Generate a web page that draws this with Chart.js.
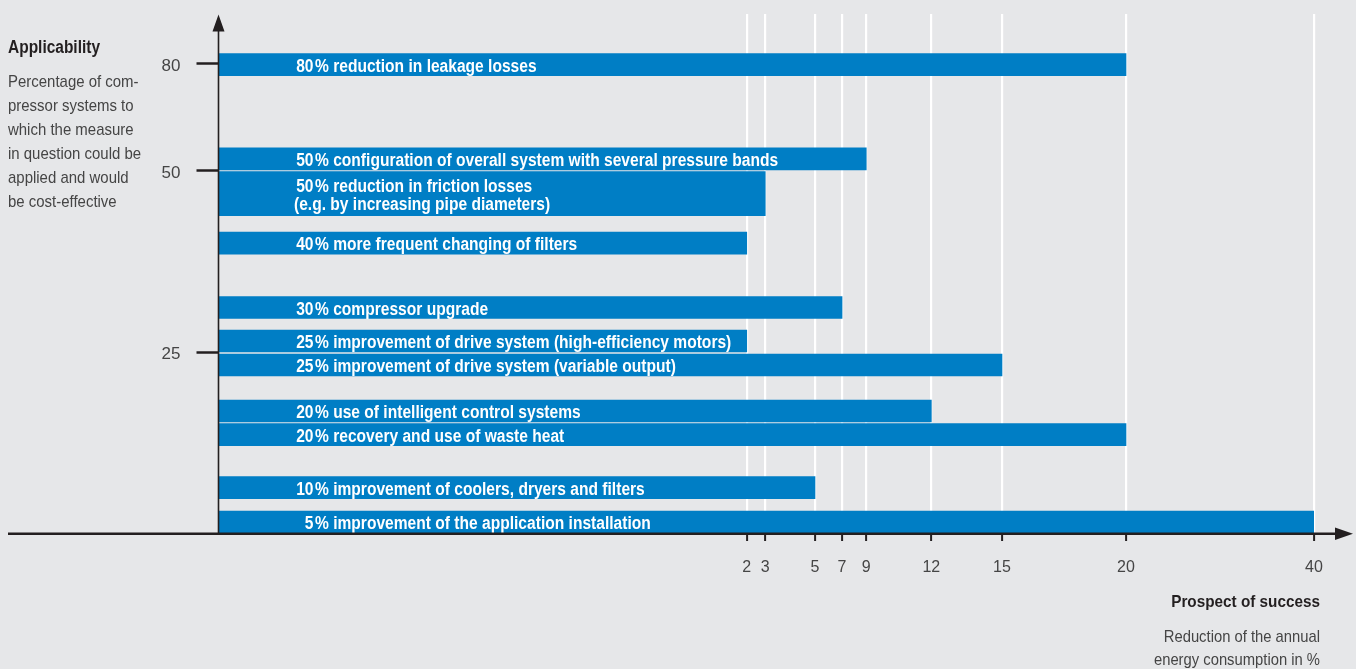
<!DOCTYPE html>
<html>
<head>
<meta charset="utf-8">
<script src="https://cdn.jsdelivr.net/npm/chart.js@4.4.1/dist/chart.umd.min.js"></script>
<style>
  html, body { margin: 0; padding: 0; background: #e6e7e9; }
  canvas { display: block; }
</style>
</head>
<body>
<canvas id="chart" width="1356" height="669"></canvas>
<script>
// ---------------- data ----------------
const measures = [
  "reduction in leakage losses",
  "configuration of overall system with several pressure bands",
  "reduction in friction losses\n(e.g. by increasing pipe diameters)",
  "more frequent changing of filters",
  "compressor upgrade",
  "improvement of drive system (high-efficiency motors)",
  "improvement of drive system (variable output)",
  "use of intelligent control systems",
  "recovery and use of waste heat",
  "improvement of coolers, dryers and filters",
  "improvement of the application installation"
];
const applicability = [80, 50, 50, 40, 30, 25, 25, 20, 20, 10, 5];   // % of compressor systems
const savings       = [20, 9, 3, 2, 7, 2, 15, 12, 20, 5, 40];        // % reduction of energy use
const xTicks = [2, 3, 5, 7, 9, 12, 15, 20, 40];
const yTicks = [25, 50, 80];

// ---------------- layout (axis warping & bar placement) ----------------
// vertical placement of each bar on the applicability axis (bars with equal values are offset)
const rowPos = [79.7, 53.2, 46.8, 40, 31.15, 26.55, 23.24, 16.88, 13.6, 6.27, 1.52];
const WARPS = {
  x: { values: [0, 2, 3, 5, 7, 9, 12, 15, 20, 40],
       fracs:  [0, 0.4822, 0.4991, 0.5445, 0.5692, 0.5913, 0.6507, 0.7152, 0.8284, 1] },
  y: { values: [0, 25, 50, 80, 90],
       fracs:  [0, 0.3482, 0.6988, 0.9046, 1] }
};

const FONT = "'Liberation Sans', Arial, sans-serif";
const BAR_COLOR = '#007ec5';
const TEXT_DARK = '#231f20';
const TEXT_GREY = '#454545';

// piecewise-linear scale
class WarpScale extends Chart.LinearScale {
  _w() { return WARPS[this.axis] || WARPS.x; }
  _frac(v) {
    const { values: vs, fracs: fs } = this._w();
    if (v <= vs[0]) return fs[0];
    for (let k = 1; k < vs.length; k++) {
      if (v <= vs[k]) {
        const t = (v - vs[k - 1]) / (vs[k] - vs[k - 1]);
        return fs[k - 1] + t * (fs[k] - fs[k - 1]);
      }
    }
    return fs[fs.length - 1];
  }
  getPixelForValue(value) {
    if (value === null || value === undefined || isNaN(value)) return NaN;
    return this.getPixelForDecimal(this._frac(+value));
  }
  getValueForPixel(pixel) {
    const d = this.getDecimalForPixel(pixel);
    const { values: vs, fracs: fs } = this._w();
    for (let k = 1; k < fs.length; k++) {
      if (d <= fs[k]) {
        const t = (d - fs[k - 1]) / (fs[k] - fs[k - 1]);
        return vs[k - 1] + t * (vs[k] - vs[k - 1]);
      }
    }
    return vs[vs.length - 1];
  }
}
WarpScale.id = 'warp';
WarpScale.defaults = { ticks: { callback: Chart.Ticks.formatters.numeric } };
Chart.register(WarpScale);

// build datasets: bars grouped by number of text lines (bar thickness follows line count)
const lineCount = measures.map(m => m.split('\n').length);
const groups = [...new Set(lineCount)];
const datasets = groups.map(n => ({
  label: n + ' line bars',
  data: measures.map((m, i) => i).filter(i => lineCount[i] === n)
        .map(i => ({ x: savings[i], y: rowPos[i], idx: i })),
  backgroundColor: BAR_COLOR,
  borderWidth: 0,
  barThickness: 22 * n,
  stack: 'all'
}));

// condensed text helper (horizontal squeeze to imitate a condensed face)
function txt(ctx, s, x, y, align, sx) {
  ctx.save();
  ctx.translate(x, y);
  ctx.scale(sx, 1);
  ctx.textAlign = align;
  ctx.fillText(s, 0, 0);
  ctx.restore();
}

// labels inside bars + axis lines + side texts
const decorPlugin = {
  id: 'decor',
  afterDatasetsDraw(chart) {
    const ctx = chart.ctx;
    const xs = chart.scales.x, ys = chart.scales.y;
    const x0 = xs.getPixelForValue(0), y0 = ys.getPixelForValue(0);
    ctx.save();
    // bar labels
    ctx.fillStyle = '#ffffff';
    ctx.font = "bold 17.5px " + FONT;
    ctx.textBaseline = 'middle';
    chart.data.datasets.forEach((ds, di) => {
      const meta = chart.getDatasetMeta(di);
      meta.data.forEach((el, j) => {
        const i = ds.data[j].idx;
        const lines = measures[i].split('\n');
        lines.forEach((ln, k) => {
          const y = el.y + (k - (lines.length - 1) / 2) * 18.3 + 2.3;
          if (k === 0) {
            txt(ctx, String(applicability[i]), 313.5, y, 'right', 0.89);
            txt(ctx, '% ' + ln, 315, y, 'left', 0.89);
          } else {
            txt(ctx, ln, 294, y, 'left', 0.89);
          }
        });
      });
    });
    // axes with arrows
    ctx.strokeStyle = TEXT_DARK;
    ctx.fillStyle = TEXT_DARK;
    ctx.lineWidth = 2.5;
    ctx.beginPath(); ctx.moveTo(8, y0 + 0.8); ctx.lineTo(1337, y0 + 0.8); ctx.stroke();
    ctx.beginPath(); ctx.moveTo(1335, y0 + 0.8 - 6.2); ctx.lineTo(1353, y0 + 0.8); ctx.lineTo(1335, y0 + 0.8 + 6.2); ctx.closePath(); ctx.fill();
    ctx.lineWidth = 1.6;
    ctx.beginPath(); ctx.moveTo(x0, y0 + 1); ctx.lineTo(x0, 30); ctx.stroke();
    ctx.beginPath(); ctx.moveTo(x0 - 6, 31.5); ctx.lineTo(x0, 14.5); ctx.lineTo(x0 + 6, 31.5); ctx.closePath(); ctx.fill();

    // left description
    ctx.textBaseline = 'middle';
    ctx.fillStyle = TEXT_DARK;
    ctx.font = "bold 18px " + FONT;
    txt(ctx, 'Applicability', 8, 48.5, 'left', 0.86);
    ctx.fillStyle = TEXT_GREY;
    ctx.font = "17px " + FONT;
    ['Percentage of com-', 'pressor systems to', 'which the measure',
     'in question could be', 'applied and would', 'be cost-effective']
      .forEach((t, k) => txt(ctx, t, 8, 82 + k * 24.1, 'left', 0.88));
    // bottom right description
    ctx.fillStyle = TEXT_DARK;
    ctx.font = "bold 17px " + FONT;
    txt(ctx, 'Prospect of success', 1320, 602, 'right', 0.9);
    ctx.fillStyle = TEXT_GREY;
    ctx.font = "17px " + FONT;
    txt(ctx, 'Reduction of the annual', 1320, 637, 'right', 0.87);
    txt(ctx, 'energy consumption in %', 1320, 660.5, 'right', 0.87);
    ctx.restore();
  }
};

new Chart(document.getElementById('chart'), {
  type: 'bar',
  data: { datasets },
  plugins: [decorPlugin],
  options: {
    indexAxis: 'y',
    responsive: false,
    animation: false,
    devicePixelRatio: 1,
    layout: { padding: { left: 0, right: 42, top: 14, bottom: 0 } },
    plugins: { legend: { display: false }, tooltip: { enabled: false } },
    scales: {
      x: {
        type: 'warp', min: 0, max: 40, stacked: false,
        afterBuildTicks: s => { s.ticks = xTicks.map(v => ({ value: v })); },
        afterFit: s => { s.height = 136; s.paddingLeft = 0; s.paddingRight = 0; },
        border: { display: false },
        grid: { color: '#ffffff', lineWidth: 2.2, tickColor: TEXT_DARK, tickWidth: 2, tickLength: 8 },
        ticks: { font: { family: FONT, size: 16 }, color: TEXT_GREY, padding: 16.5, maxRotation: 0, autoSkip: false }
      },
      y: {
        type: 'warp', min: 0, max: 90, offset: false,
        afterBuildTicks: s => { s.ticks = yTicks.map(v => ({ value: v })); },
        afterFit: s => { s.width = 218.5; s.paddingTop = 0; s.paddingBottom = 0; },
        border: { display: false },
        grid: { offset: false, drawOnChartArea: false, tickColor: TEXT_DARK, tickWidth: 2.5, tickLength: 22 },
        ticks: { font: { family: FONT, size: 17 }, color: TEXT_GREY, padding: 16, labelOffset: 2.5, autoSkip: false }
      }
    }
  }
});
</script>
</body>
</html>
